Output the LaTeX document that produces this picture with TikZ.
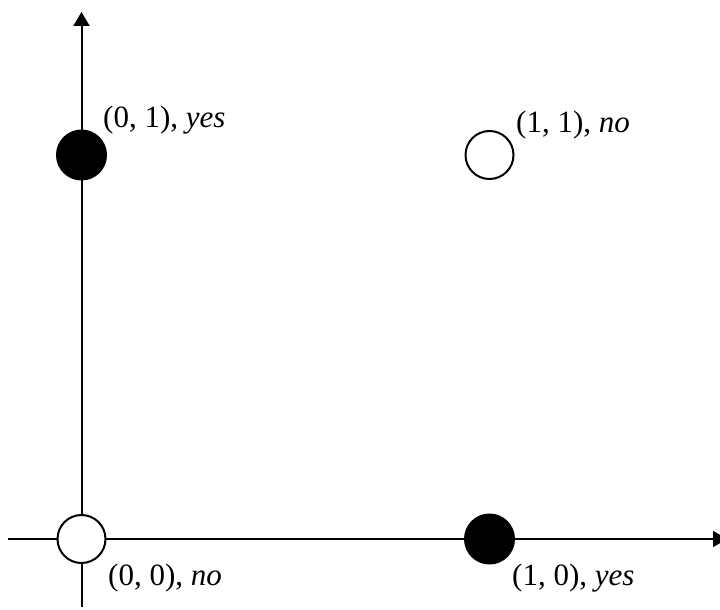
\documentclass[tikz,border=0pt]{standalone}
\usepackage{fontspec}
\setmainfont{Liberation Serif}
\usetikzlibrary{arrows.meta}
\begin{document}
\begin{tikzpicture}[x=1pt,y=-1pt,
  axis/.style={line width=2pt,-{Triangle[length=14pt,width=16pt]}},
  filledpt/.style={circle,draw=black,fill=black,line width=2pt,minimum size=49pt,inner sep=0pt},
  openpt/.style={circle,draw=black,fill=white,line width=2pt,minimum size=48pt,inner sep=0pt},
  lbl/.style={anchor=base west,inner sep=0pt,font=\fontsize{31}{35}\selectfont}]
\useasboundingbox (0,0) rectangle (720,610);
\coordinate (ybot) at (81.5,607);
\coordinate (ytop) at (81.5,12);
\coordinate (xleft) at (8,539);
\coordinate (xright) at (727,539);
\draw[axis] (ybot) -- (ytop);
\draw[axis] (xleft) -- (xright);
\node[filledpt] (p01) at (81.5,155) {};
\node[openpt] (p11) at (489.5,155) {};
\node[openpt] (p00) at (81.5,539) {};
\node[filledpt] (p10) at (489.5,539) {};
\node[lbl] (l01) at (103,127) {(0, 1), \textit{yes}};
\node[lbl] (l11) at (516,132) {(1, 1), \textit{no}};
\node[lbl] (l00) at (108,585) {(0, 0), \textit{no}};
\node[lbl] (l10) at (512,585) {(1, 0), \textit{yes}};
\end{tikzpicture}
\end{document}
